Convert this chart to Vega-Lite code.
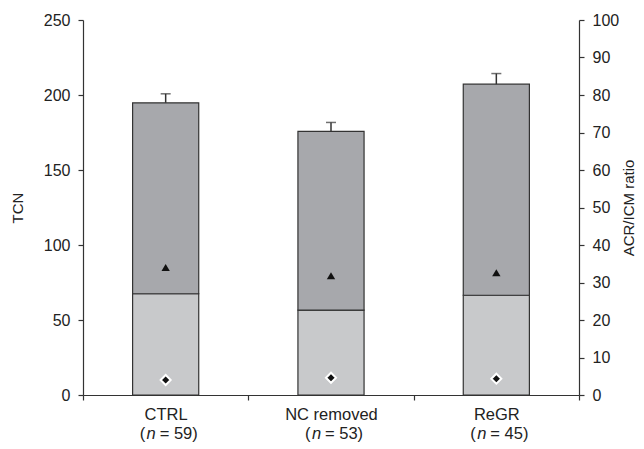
{
  "$schema": "https://vega.github.io/schema/vega-lite/v6.json",
  "width": 496,
  "height": 375,
  "autosize": {"type": "none"},
  "padding": {"left": 83, "top": 20, "right": 65, "bottom": 54},
  "background": "white",
  "config": {
    "view": {"stroke": null},
    "font": "Liberation Sans",
    "axis": {
      "domainColor": "#333333",
      "tickColor": "#333333",
      "labelColor": "#222222",
      "titleColor": "#222222",
      "labelFont": "Liberation Sans",
      "titleFont": "Liberation Sans",
      "labelFontSize": 16,
      "titleFontSize": 15,
      "titleFontWeight": "normal",
      "tickSize": 5,
      "grid": false,
      "domainWidth": 1.2,
      "tickWidth": 1.2,
      "labelOverlap": false
    }
  },
  "data": {
    "values": [
      {"group": "CTRL", "n": 59, "lower": 67.5, "total": 194.8, "cap": 200.8, "tri": 34.0, "dia": 4.0},
      {"group": "NC removed", "n": 53, "lower": 56.6, "total": 175.7, "cap": 181.7, "tri": 31.8, "dia": 4.6},
      {"group": "ReGR", "n": 45, "lower": 66.5, "total": 207.2, "cap": 214.3, "tri": 32.6, "dia": 4.35}
    ]
  },
  "transform": [{"calculate": "'= ' + datum.n + ')'", "as": "n_rest"}],
  "encoding": {
    "x": {
      "field": "group",
      "type": "nominal",
      "sort": null,
      "scale": {"paddingInner": 0, "paddingOuter": 0},
      "axis": {"title": null, "labelAngle": 0, "labelPadding": 19, "labelFontSize": 16.5, "tickBand": "extent", "labelBaseline": "alphabetic"}
    }
  },
  "layer": [
    {
      "layer": [
        {
          "mark": {"type": "bar", "width": {"band": 0.4}, "fill": "#c8c9cb", "stroke": "#333333", "strokeWidth": 1.2},
          "encoding": {
            "y": {"field": "lower", "type": "quantitative", "scale": {"domain": [0, 250], "nice": false},
                  "axis": {"title": "TCN", "values": [0, 50, 100, 150, 200, 250], "labelPadding": 8, "titlePadding": 18}}
          }
        },
        {
          "mark": {"type": "bar", "width": {"band": 0.4}, "fill": "#a7a8ac", "stroke": "#333333", "strokeWidth": 1.2},
          "encoding": {
            "y": {"field": "total", "type": "quantitative", "title": "TCN"},
            "y2": {"field": "lower"}
          }
        },
        {
          "mark": {"type": "rule", "stroke": "#333333", "strokeWidth": 1.5},
          "encoding": {
            "y": {"field": "total", "type": "quantitative", "title": "TCN"},
            "y2": {"field": "cap"}
          }
        },
        {
          "mark": {"type": "tick", "color": "#333333", "size": 10, "thickness": 1.5},
          "encoding": {
            "y": {"field": "cap", "type": "quantitative", "title": "TCN"}
          }
        },
        {
          "mark": {"type": "text", "align": "right", "baseline": "alphabetic", "dx": -20.5, "dy": 44, "fontSize": 16.5, "font": "Liberation Sans", "color": "#222222"},
          "encoding": {
            "y": {"datum": 0, "type": "quantitative"},
            "text": {"value": "("}
          }
        },
        {
          "mark": {"type": "text", "align": "center", "baseline": "alphabetic", "dx": -14.5, "dy": 44, "fontSize": 16.5, "fontStyle": "italic", "font": "Liberation Sans", "color": "#222222"},
          "encoding": {
            "y": {"datum": 0, "type": "quantitative"},
            "text": {"value": "n"}
          }
        },
        {
          "mark": {"type": "text", "align": "left", "baseline": "alphabetic", "dx": -6, "dy": 44, "fontSize": 16.5, "font": "Liberation Sans", "color": "#222222"},
          "encoding": {
            "y": {"datum": 0, "type": "quantitative"},
            "text": {"field": "n_rest"}
          }
        }
      ]
    },
    {
      "layer": [
        {
          "mark": {"type": "point", "shape": "triangle-up", "filled": true, "fill": "#111111", "size": 70, "opacity": 1},
          "encoding": {
            "y": {"field": "tri", "type": "quantitative", "scale": {"domain": [0, 100], "nice": false},
                  "axis": {"orient": "right", "title": "ACR/ICM ratio", "titleAngle": 270, "titleBaseline": "top", "values": [0, 10, 20, 30, 40, 50, 60, 70, 80, 90, 100], "labelPadding": 8, "titlePadding": 3}}
          }
        },
        {
          "mark": {"type": "point", "shape": "diamond", "filled": true, "fill": "#111111", "stroke": "white", "strokeWidth": 2, "size": 100, "opacity": 1},
          "encoding": {
            "y": {"field": "dia", "type": "quantitative",
                  "axis": {"orient": "right", "title": "ACR/ICM ratio", "titleAngle": 270, "titleBaseline": "top", "values": [0, 10, 20, 30, 40, 50, 60, 70, 80, 90, 100], "labelPadding": 8, "titlePadding": 3}}
          }
        }
      ]
    }
  ],
  "resolve": {"scale": {"y": "independent"}}
}
